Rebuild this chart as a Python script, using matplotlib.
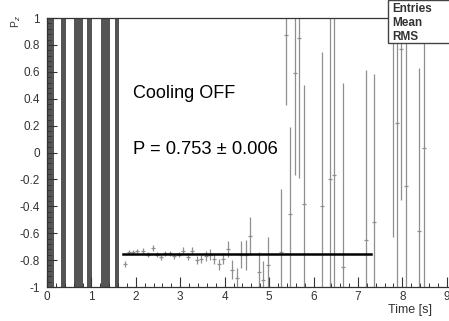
import numpy as np
import matplotlib.pyplot as plt
from matplotlib.ticker import MultipleLocator
from matplotlib.patches import Rectangle

plt.rcParams['font.family'] = ['Liberation Sans', 'DejaVu Sans']

# dense regions (many full-range error bars), in seconds
band_start = [0.0, 0.32, 0.61, 0.91, 1.22, 1.52]
band_end = [0.15, 0.42, 0.82, 1.02, 1.42, 1.62]

# measured points: time, P_z, error
t = [1.76, 1.85, 1.94, 2.03, 2.17, 2.27, 2.38, 2.47, 2.57, 2.66, 2.77, 2.86,
     2.97, 3.07, 3.17, 3.27, 3.37, 3.47, 3.57, 3.67, 3.77, 3.87, 3.97, 4.07,
     4.17, 4.27, 4.37, 4.47, 4.57, 4.77, 4.87, 4.97, 5.27, 5.38, 5.47, 5.59,
     5.68, 5.78, 6.18, 6.37, 6.47, 6.67, 7.18, 7.37, 7.79, 7.88, 7.97, 8.09,
     8.38, 8.48]
pz = [-0.83, -0.74, -0.74, -0.73, -0.73, -0.76, -0.71, -0.76, -0.78, -0.75, -0.75, -0.77,
      -0.76, -0.73, -0.78, -0.73, -0.80, -0.79, -0.77, -0.76, -0.79, -0.83, -0.79, -0.72,
      -0.87, -0.93, -0.76, -0.76, -0.62, -0.89, -0.95, -0.84, -0.74, 0.87, -0.46, 0.59,
      0.85, -0.38, -0.40, -0.20, -0.17, -0.85, -0.65, -0.52, 1.20, 0.22, 0.77, -0.25,
      -0.58, 0.03]
pz_err = [0.02, 0.015, 0.015, 0.015, 0.02, 0.02, 0.02, 0.02, 0.02, 0.02, 0.02, 0.02,
          0.02, 0.025, 0.02, 0.025, 0.03, 0.03, 0.035, 0.04, 0.04, 0.04, 0.04, 0.06,
          0.07, 0.07, 0.10, 0.11, 0.14, 0.15, 0.14, 0.21, 0.47, 0.52, 0.65, 0.76,
          1.04, 0.88, 1.15, 1.3, 1.3, 1.37, 1.26, 1.10, 1.83, 1.3, 1.12, 1.3,
          1.21, 1.1]

fit_range = [1.72, 7.29]
fit_value = -0.753

fig = plt.figure(figsize=(4.49, 3.21), dpi=100)
ax = fig.add_axes([47/449, 34/321, 402/449, 269/321])

for a, b in zip(band_start, band_end):
    ax.axvspan(a, b, color='#555555', lw=0)

ax.errorbar(t, pz, yerr=pz_err, xerr=0.045, fmt='none', ecolor='#8f8f8f', elinewidth=0.9)
ax.plot(fit_range, [fit_value, fit_value], color='black', lw=1.8)

ax.text(1.94, 0.44, 'Cooling OFF', fontsize=13, va='center')
ax.text(1.94, 0.02, 'P = 0.753 \u00b1 0.006', fontsize=13.2, va='center')

ax.set_xlim(0, 9.05)
ax.set_ylim(-1, 1)
ax.xaxis.set_major_locator(MultipleLocator(1))
ax.xaxis.set_minor_locator(MultipleLocator(0.2))
ax.yaxis.set_minor_locator(MultipleLocator(0.04))
ax.set_yticks(np.arange(-1, 1.01, 0.2))
ax.set_yticklabels(['-1', '-0.8', '-0.6', '-0.4', '-0.2', '0', '0.2', '0.4', '0.6', '0.8', '1'])
ax.tick_params(which='both', direction='in', colors='#333333', labelsize=8.5)
ax.tick_params(which='major', length=7, width=0.8)
ax.tick_params(which='minor', length=3, width=0.7)
ax.tick_params(axis='x', pad=3)
ax.tick_params(axis='y', pad=5)
ax.spines['right'].set_visible(False)
for s in ['left', 'bottom', 'top']:
    ax.spines[s].set_color('#333333')
    ax.spines[s].set_linewidth(0.9)

fig.text(16/449, 1 - 22/321, r'P$_z$', rotation=90, fontsize=7.5, color='#333333', ha='center', va='center')
fig.text(388/449, 1 - 310/321, 'Time [s]', fontsize=9, color='#333333', ha='left', va='center')

# stats box
fig.patches.append(Rectangle((388/449, 1 - 43/321), 70/449, 43/321, transform=fig.transFigure,
                             facecolor='white', edgecolor='#444444', lw=1))
for i, lab in enumerate(['Entries', 'Mean', 'RMS']):
    fig.text(392/449, 1 - (9 + 14 * i)/321, lab, fontsize=8.5, fontweight='bold', color='#333333', va='center')

fig.savefig('out.png', dpi=100)
